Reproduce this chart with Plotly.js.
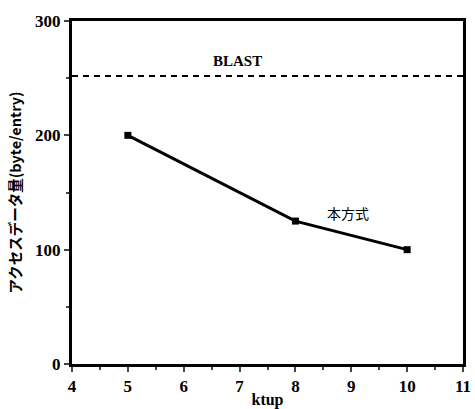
<!DOCTYPE html>
<html><head><meta charset="utf-8">
<script src="https://cdn.plot.ly/plotly-3.0.1.min.js"></script>
<style>body{margin:0;padding:0;background:#fff}#c{width:475px;height:409px}</style>
</head><body><div id="c"></div>
<script>
const ktup = [5, 8, 10];
const access = [200, 125, 100];
const blastValue = 252;
const xTicks = [4, 5, 6, 7, 8, 9, 10, 11];
const yTicks = [0, 100, 200, 300];
const serif = "'Liberation Serif', 'Times New Roman', serif";
const traces = [
  {x: ktup, y: access, type: 'scatter', mode: 'lines+markers',
   line: {color: '#000', width: 3}, marker: {symbol: 'square', size: 7, color: '#000'}},
  {x: [4, 11], y: [blastValue, blastValue], type: 'scatter', mode: 'lines',
   line: {color: '#000', width: 2, dash: '6px,5px'}}
];
const layout = {
  width: 475, height: 409, showlegend: false,
  margin: {l: 72, r: 12, t: 21, b: 45},
  paper_bgcolor: '#fff', plot_bgcolor: '#fff',
  font: {family: serif, color: '#000'},
  xaxis: {range: [4, 11], tickvals: xTicks, ticktext: xTicks.map(String), ticks: 'outside', ticklen: 5, tickwidth: 2,
    showline: true, linewidth: 3, linecolor: '#000', mirror: true, showgrid: false, zeroline: false,
    tickfont: {size: 17, family: serif, weight: 'bold'},
    minor: {dtick: 0.5, ticks: 'outside', ticklen: 3, tickwidth: 2, showgrid: false},
    title: {text: 'ktup', font: {size: 16, family: serif, weight: 'bold'}, standoff: 0}},
  yaxis: {range: [0, 300], tickvals: yTicks, ticktext: yTicks.map(String), ticks: 'outside', ticklen: 5, tickwidth: 2,
    showline: true, linewidth: 3, linecolor: '#000', mirror: true, showgrid: false, zeroline: false,
    tickfont: {size: 17, family: serif, weight: 'bold'},
    minor: {dtick: 50, ticks: 'outside', ticklen: 3, tickwidth: 2, showgrid: false},
    title: {text: 'アクセスデータ量(byte/entry)', font: {size: 14.5, family: "'Noto Sans CJK JP', sans-serif", weight: 'bold'}, standoff: 11}},
  annotations: [
    {x: 6.97, y: 265, xref: 'x', yref: 'y', text: 'BLAST', showarrow: false,
     font: {size: 15, family: serif, weight: 'bold'}},
    {x: 8.94, y: 132, xref: 'x', yref: 'y', text: '本方式', showarrow: false,
     font: {size: 14, family: "'Noto Sans CJK JP', sans-serif"}}
  ]
};
Plotly.newPlot('c', traces, layout, {displayModeBar: false, staticPlot: true});
</script></body></html>
